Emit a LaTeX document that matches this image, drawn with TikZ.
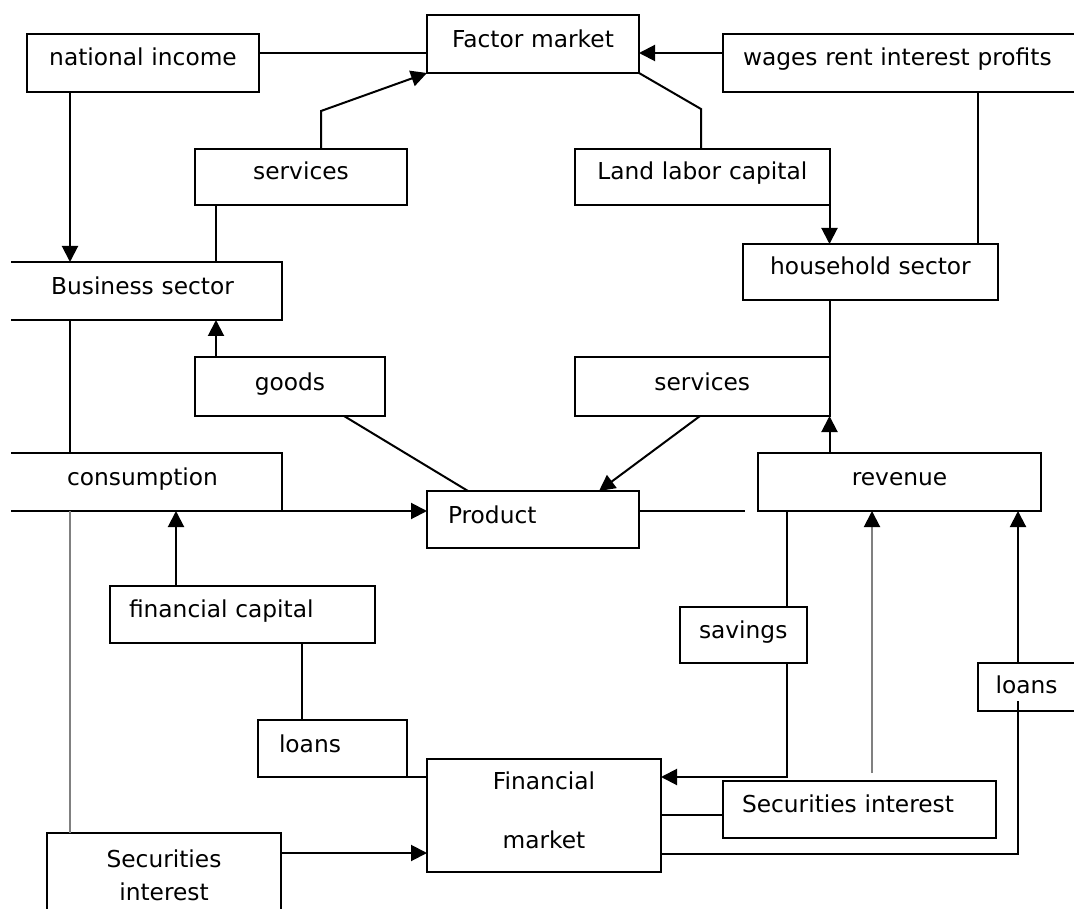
\documentclass[tikz,border=0pt]{standalone}
\usepackage{fontspec}
\setmainfont{DejaVu Sans}
\usetikzlibrary{arrows.meta,calc}
\definecolor{lgray}{gray}{0.5}
\begin{document}
\begin{tikzpicture}[x=1pt,y=-1pt,
  every node/.style={font=\fontsize{23.3}{28}\selectfont},
  bx/.style={draw, line width=2pt, inner sep=0pt, outer sep=0pt, anchor=north west, align=center},
  lbx/.style={bx, align=left},
  geo/.style n args={3}{text width=#1pt, text height=#2pt, text depth=#3pt},
  ln/.style={line width=2pt},
  arr/.style={ln, -{Triangle[length=16pt,width=16pt]}},
  gln/.style={ln, draw=lgray},
  garr/.style={ln, draw=lgray, -{Triangle[length=16pt,width=16pt,color=black]}}
]
\useasboundingbox (0,0) rectangle (1074,909);
\clip (0,0) rectangle (1074,909);

% boxes
\node[bx, geo={232}{32}{26}] (ni) at (27,34) {national income};
\node[bx, geo={212}{33}{25}] (fm) at (427,15) {Factor market};
\node[lbx, geo={377}{32}{26}] (wg) at (723,34) {\hspace*{20pt}wages rent interest profits};
\node[bx, geo={212}{31}{25}] (svl) at (195,149) {services};
\node[bx, geo={254.5}{31}{25}] (llc) at (575,149) {Land labor capital};
\node[bx, draw=none, geo={279}{33}{25}] (bs) at (3,262) {Business sector};
\node[bx, geo={255}{31}{25}] (hh) at (743,244) {household sector};
\node[bx, geo={190}{33}{26}] (goods) at (195,357) {goods};
\node[bx, draw=none, geo={279}{32}{26}] (cons) at (3,453) {consumption};
\node[bx, geo={254.5}{33}{26}] (svr) at (575,357) {services};
\node[bx, geo={283}{32}{26}] (rev) at (758,453) {revenue};
\node[lbx, geo={212}{32}{25}] (prod) at (427,491) {\hspace*{21pt}Product};
\node[lbx, geo={265}{31}{26}] (fc) at (110,586) {\hspace*{19pt}financial capital};
\node[lbx, geo={149}{32}{25}] (lnl) at (258,720) {\hspace*{21pt}loans};
\node[lbx, geo={127}{31}{25}] (sav) at (680,607) {\hspace*{19pt}savings};
\node[lbx, geo={122.4}{30}{18}] (lnr) at (977.6,663) {\hspace*{18pt}loans};
\node[lbx, geo={272.6}{31}{26}] (sir) at (723,781) {\hspace*{19pt}Securities interest};
\node[bx, geo={234}{30}{83}] (fmk) at (427,759) {Financial\\[31pt]market};
\node[bx, geo={234}{34}{83}] (sil) at (47,833) {Securities\\[5pt]interest};

% open-left boxes
\draw[ln] ($(bs.north west)+(8,0)$) -- (bs.north east) -- (bs.south east) -- ($(bs.south west)+(8,0)$);
\draw[ln] ($(cons.north west)+(8,0)$) -- (cons.north east) -- (cons.south east) -- ($(cons.south west)+(8,0)$);

% helper coordinates
\coordinate (c1) at ($(ni.south west)+(43,0)$);
\coordinate (c2) at ($(svl.south west)+(21,0)$);
\coordinate (c3) at ($(wg.south west)+(254.6,0)$);
\coordinate (c4) at ($(fc.north west)+(66,0)$);
\coordinate (c5) at ($(prod.north east)+(106,20)$);
\coordinate (c6) at ($(sav.north west)+(107,0)$);
\coordinate (c7) at (872,773);
\coordinate (c8) at ($(lnr.north west)+(40.4,0)$);
\coordinate (c9) at ($(fmk.north east)+(0,56)$);
\coordinate (c10) at ($(fc.south west)+(192,0)$);
\coordinate (c11) at ($(sil.north east)+(0,20)$);

% connectors
\draw[ln] ($(ni.north east)+(0,19)$) -- ($(fm.north west)+(0,38)$);
\draw[arr] ($(wg.north west)+(0,19)$) -- ($(fm.north east)+(0,38)$);
\draw[arr] ($(svl.north west)+(126,0)$) -- ++(0,-38) -- (fm.south west);
\draw[arr] (c1) -- (c1 |- bs.north);
\draw[ln] (c2) -- (c2 |- bs.north);
\draw[ln] (fm.south east) -- ($(llc.north west)+(126,-40)$) -- ($(llc.north west)+(126,0)$);
\draw[arr] (llc.south east) -- (llc.south east |- hh.north);
\draw[ln] (c3) -- (c3 |- hh.north);
\draw[ln] (c1 |- bs.south) -- (c1 |- cons.north);
\draw[arr] (c2 |- goods.north) -- (c2 |- bs.south);
\draw[ln] ($(goods.south west)+(149,0)$) -- ($(prod.north west)+(41,0)$);
\draw[arr] (cons.south east) -- (cons.south east -| prod.west);
\draw[arr] (c4) -- (c4 |- cons.south);
\draw[gln] (c1 |- cons.south) -- (c1 |- sil.north);
\draw[ln] (svr.north east |- hh.south) -- (svr.north east);
\draw[arr] (svr.south east |- rev.north) -- (svr.south east);
\draw[arr] ($(svr.south west)+(125,0)$) -- ($(prod.north west)+(172,0)$);
\draw[ln] (prod.east |- c5) -- (c5);
\draw[ln] (c6 |- rev.south) -- (c6);
\draw[arr] (c6 |- sav.south) |- ($(fmk.north east)+(0,18)$);
\draw[garr] (c7) -- (c7 |- rev.south);
\draw[arr] (c8) -- (c8 |- rev.south);
\draw[ln] ($(lnr.south west)+(40.4,-10)$) |- ($(fmk.south east)+(0,-18)$);
\draw[ln] (c9) -- (c9 -| sir.west);
\draw[ln] (lnl.south east) -- (lnl.south east -| fmk.west);
\draw[ln] (c10) -- (c10 |- lnl.north);
\draw[arr] (c11) -- (c11 -| fmk.west);
\end{tikzpicture}
\end{document}
